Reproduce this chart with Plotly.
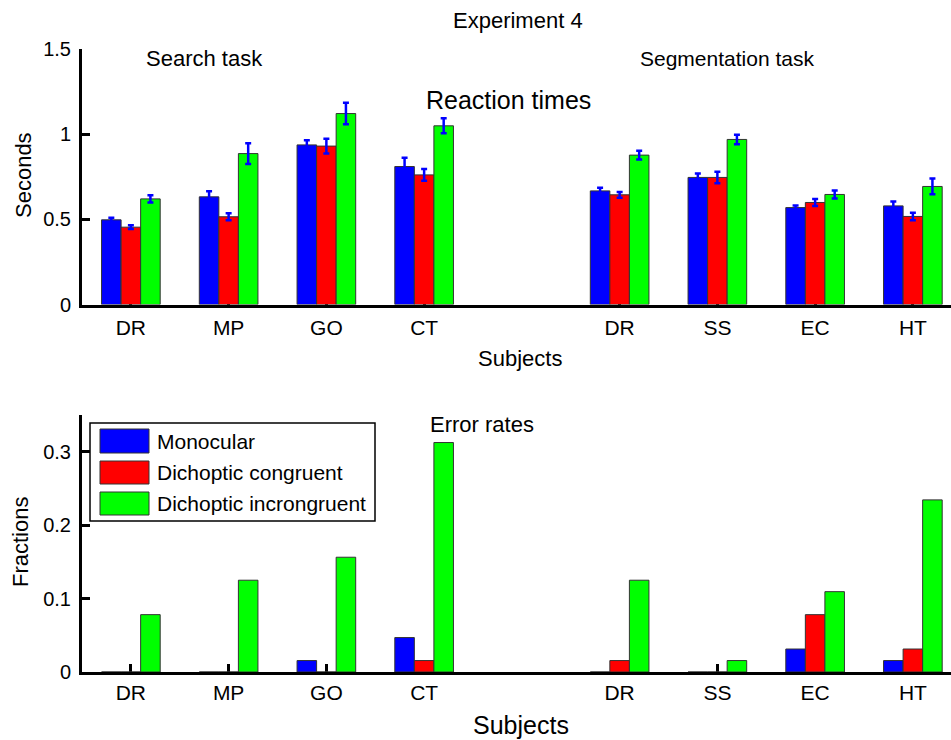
import plotly.graph_objects as go

# ---------------- data ----------------
subjects = ["DR", "MP", "GO", "CT", "DR", "SS", "EC", "HT"]
positions = [1, 2, 3, 4, 6, 7, 8, 9]
series_names = ["Monocular", "Dichoptic congruent", "Dichoptic incrongruent"]
series_colors = ["#0000FF", "#FF0000", "#00FF00"]

rt_mono = [0.497, 0.632, 0.937, 0.810, 0.667, 0.746, 0.569, 0.579]
rt_cong = [0.454, 0.515, 0.930, 0.761, 0.644, 0.746, 0.599, 0.517]
rt_incong = [0.620, 0.886, 1.121, 1.049, 0.877, 0.969, 0.646, 0.693]

rt_err_mono = [0.012, 0.033, 0.027, 0.051, 0.018, 0.023, 0.012, 0.025]
rt_err_cong = [0.011, 0.021, 0.043, 0.035, 0.017, 0.034, 0.021, 0.022]
rt_err_incong = [0.021, 0.061, 0.063, 0.044, 0.026, 0.028, 0.024, 0.046]

er_mono = [0, 0, 0.0156, 0.0469, 0, 0, 0.0313, 0.0156]
er_cong = [0, 0, 0, 0.0156, 0.0156, 0, 0.0781, 0.0313]
er_incong = [0.0781, 0.125, 0.1563, 0.3125, 0.125, 0.0156, 0.1094, 0.2344]

rt_ticks = [0, 0.5, 1, 1.5]
rt_ticktext = ["0", "0.5", "1", "1.5"]
er_ticks = [0, 0.1, 0.2, 0.3]
er_ticktext = ["0", "0.1", "0.2", "0.3"]

# ---------------- layout geometry ----------------
W, H = 951, 740
ML, MR, MT, MB = 82, 0, 49, 68
PW, PH = W - ML - MR, H - MT - MB
FONT = "Liberation Sans, Arial, Helvetica, sans-serif"


def px2x(px):
    return (px - ML) / PW


def py2y(py):
    return (H - MB - py) / PH


fig = go.Figure()

rt_vals = [rt_mono, rt_cong, rt_incong]
rt_errs = [rt_err_mono, rt_err_cong, rt_err_incong]
er_vals = [er_mono, er_cong, er_incong]

for name, col, vals, errs in zip(series_names, series_colors, rt_vals, rt_errs):
    fig.add_trace(go.Bar(
        x=positions, y=vals, name=name, marker_color=col,
        marker_line=dict(color="#333333", width=1),
        error_y=dict(type="data", array=errs, visible=True, color="#0000FF",
                     thickness=2.5, width=3),
        xaxis="x", yaxis="y", showlegend=False,
    ))

for name, col, vals in zip(series_names, series_colors, er_vals):
    fig.add_trace(go.Bar(
        x=positions, y=vals, name=name, marker_color=col,
        marker_line=dict(color="#333333", width=1),
        xaxis="x2", yaxis="y2", showlegend=False,
    ))

axis_common = dict(
    showline=True, linecolor="black", linewidth=3,
    ticks="inside", ticklen=8, tickwidth=2.5, tickcolor="black",
    showgrid=False, zeroline=False, layer="below traces",
    tickfont=dict(family=FONT, size=20, color="black"),
)

xrange = [0.5, 9.39]
top_dom = [py2y(304.5), 1.0]
bot_dom = [0.0, py2y(415)]

fig.update_layout(
    width=W, height=H,
    margin=dict(l=ML, r=MR, t=MT, b=MB),
    paper_bgcolor="white", plot_bgcolor="white",
    barmode="group", bargap=0.4, bargroupgap=0,
    font=dict(family=FONT, color="black"),
    xaxis=dict(axis_common, domain=[0, 1], range=xrange, anchor="y",
               tickvals=positions, ticktext=subjects, ticklabelstandoff=2,
               tickfont=dict(family=FONT, size=21, color="black")),
    yaxis=dict(axis_common, domain=top_dom, range=[0, 1.5], anchor="x",
               tickvals=rt_ticks, ticktext=rt_ticktext, ticklabelstandoff=4),
    xaxis2=dict(axis_common, domain=[0, 1], range=xrange, anchor="y2",
                tickvals=positions, ticktext=subjects, ticklabelstandoff=0,
                tickfont=dict(family=FONT, size=21, color="black")),
    yaxis2=dict(axis_common, domain=bot_dom, range=[0, 0.35], anchor="x2",
                tickvals=er_ticks, ticktext=er_ticktext, ticklabelstandoff=4),
)

texts = [
    ("Experiment 4", 518, 21, 22, 0),
    ("Search task", 204, 58, 22, 0),
    ("Segmentation task", 727, 58, 21, 0),
    ("Reaction times", 508, 100, 25, 0),
    ("Seconds", 23, 175, 22, -90),
    ("Subjects", 520, 358, 22, 0),
    ("Error rates", 482, 424, 22, 0),
    ("Fractions", 20, 542, 22, -90),
    ("Subjects", 521, 725, 25, 0),
]
for t, x, y, s, ang in texts:
    fig.add_annotation(text=t, x=px2x(x), y=py2y(y), xref="paper", yref="paper",
                       xanchor="center", yanchor="middle", showarrow=False,
                       textangle=ang, font=dict(family=FONT, size=s, color="black"))

# ---------------- manual legend ----------------
fig.add_shape(type="rect", xref="paper", yref="paper",
              x0=px2x(90), x1=px2x(375), y0=py2y(521), y1=py2y(423),
              line=dict(color="black", width=1.5), fillcolor="white", layer="above")
legend_rows = [(429, 453), (461, 484), (492, 515)]
for (y0, y1), name, col in zip(legend_rows, series_names, series_colors):
    fig.add_shape(type="rect", xref="paper", yref="paper",
                  x0=px2x(100), x1=px2x(149), y0=py2y(y1), y1=py2y(y0),
                  line=dict(color="#333333", width=1), fillcolor=col, layer="above")
    fig.add_annotation(text=name, x=px2x(155), y=py2y((y0 + y1) / 2),
                       xref="paper", yref="paper", xanchor="left", yanchor="middle",
                       showarrow=False, font=dict(family=FONT, size=21, color="black"))

fig.write_html("out.html",
               config={"displayModeBar": False},
               post_script="document.body.style.margin='0';document.body.style.overflow='hidden';")
